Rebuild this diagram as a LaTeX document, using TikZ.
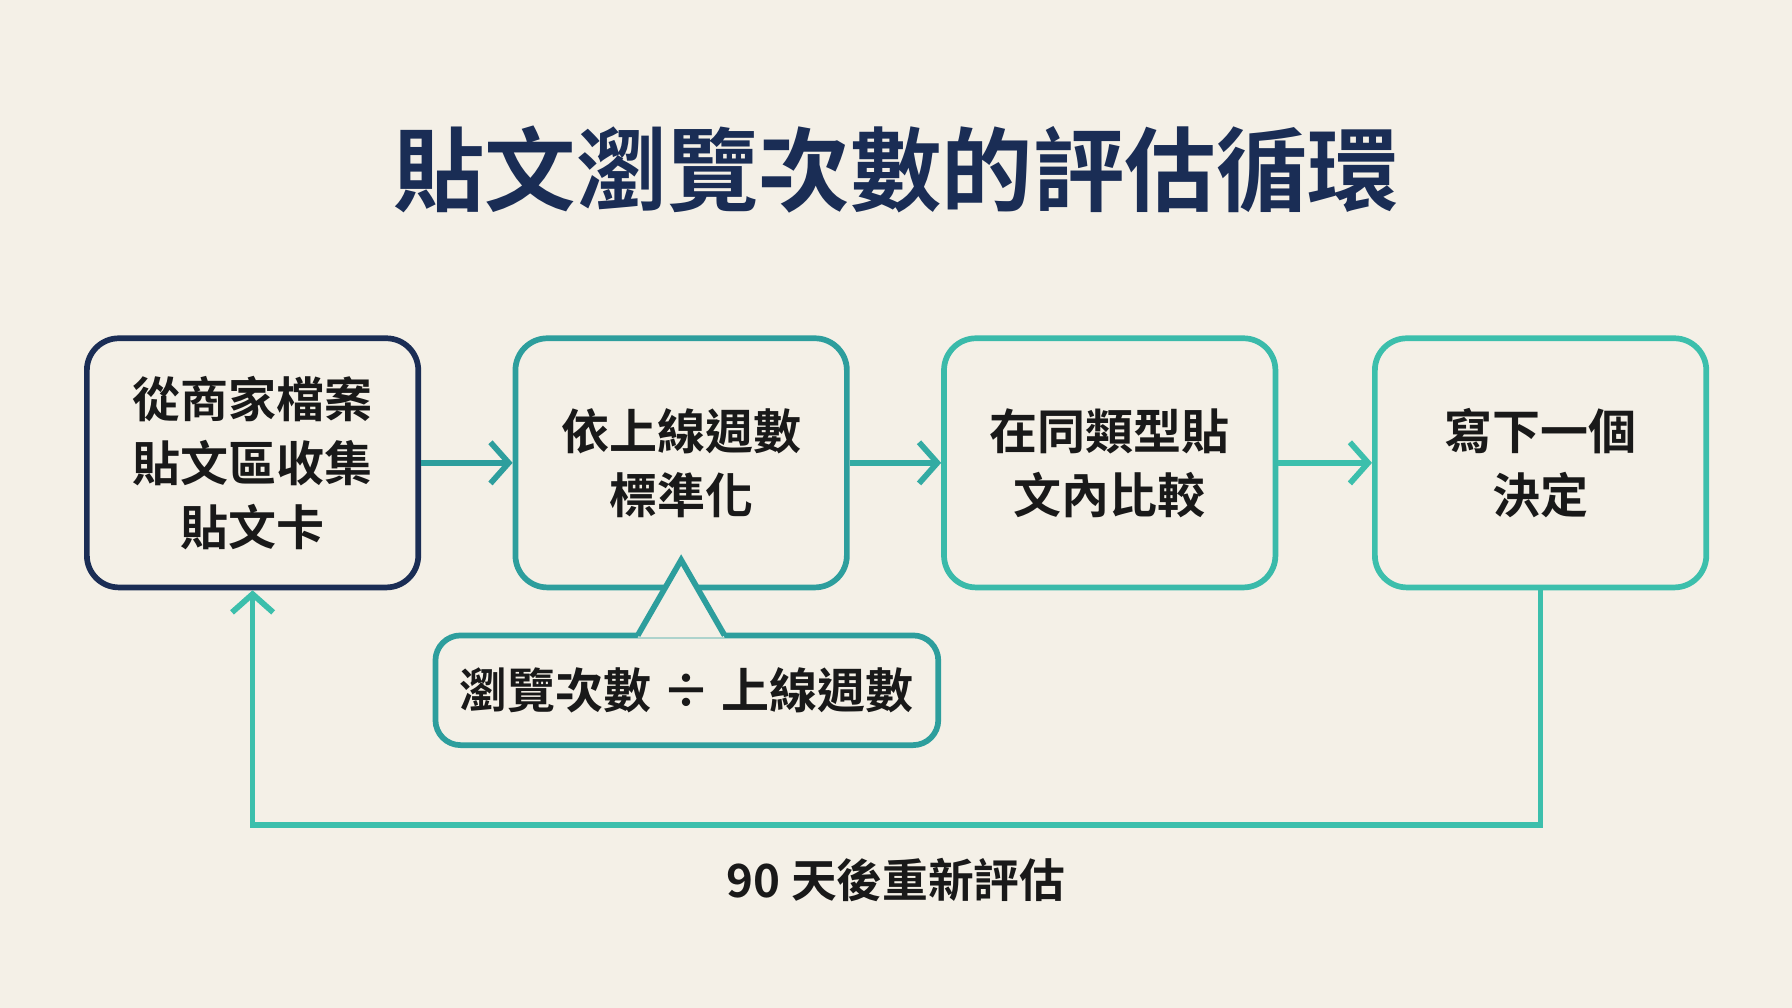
\documentclass[tikz,border=0pt]{standalone}
\usepackage{fontspec}
\setmainfont{Noto Sans CJK TC}[BoldFont={Noto Sans CJK TC Bold}]
\usetikzlibrary{arrows.meta}
\definecolor{bg}{HTML}{F4F0E7}
\definecolor{navy}{HTML}{1A2D55}
\definecolor{tealA}{HTML}{2D9E9D}
\definecolor{tealB}{HTML}{3CBFAC}
\begin{document}
\begin{tikzpicture}[x=1pt,y=-1pt,
 box/.style={draw,line width=5pt,rounded corners=28pt,minimum width=290pt,minimum height=218pt,align=center,font=\fontsize{42}{56}\selectfont\bfseries,text=black!90},
 arr/.style={line width=5pt,-{Straight Barb[length=16pt,width=36pt]}}]
\fill[bg] (0,0) rectangle (1568,882);
\useasboundingbox (0,0) rectangle (1568,882);
\node[text=navy,font=\fontsize{80}{84}\selectfont\bfseries] (title) at (784,148) {貼文瀏覽次數的評估循環};
\node[box,draw=navy] (b1) at (221,405) {從商家檔案\\貼文區收集\\貼文卡};
\node[box,draw=tealA] (b2) at (596,405) {依上線週數\\標準化};
\node[box,draw=tealB!85!tealA] (b3) at (971,405) {在同類型貼\\文內比較};
\node[box,draw=tealB] (b4) at (1348,405) {寫下一個\\決定};
\node[draw=tealA,line width=5pt,rounded corners=22pt,minimum width=440pt,minimum height=96pt,font=\fontsize{42}{48}\selectfont\bfseries,text=black!90] (c) at (601,604) {瀏覽次數 ÷ 上線週數};
\fill[bg] (558,558) -- (596,490) -- (634,558) -- cycle;
\draw[tealA,line width=5pt,line join=miter] (558,556) -- (596,490) -- (634,556);
\draw[arr,draw=tealA] (b1) -- (b2);
\draw[arr,draw=tealA!60!tealB] (b2) -- (b3);
\draw[arr,draw=tealB] (b3) -- (b4);
\coordinate (p1) at (1348,722);
\coordinate (p2) at (221,722);
\draw[arr,draw=tealB,line join=miter] (b4.south) -- (p1) -- (p2) -- (b1.south);
\node[font=\fontsize{40}{44}\selectfont\bfseries,text=black!90] (lbl) at (784,770) {90 天後重新評估};
\end{tikzpicture}
\end{document}
